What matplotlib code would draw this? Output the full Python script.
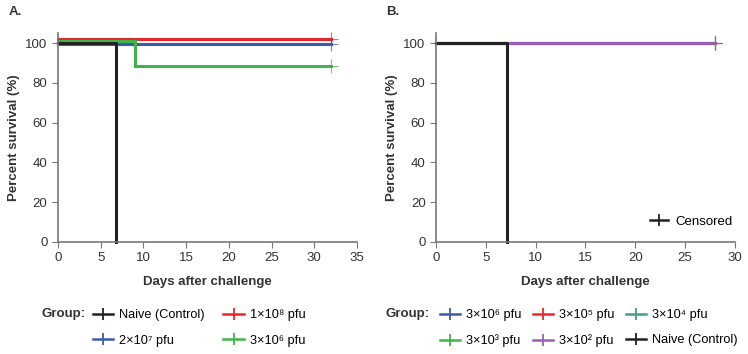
import matplotlib
matplotlib.use("Agg")
import matplotlib.pyplot as plt
from matplotlib.lines import Line2D

plt.rcParams['font.family'] = ['Liberation Sans', 'DejaVu Sans']
plt.rcParams['font.size'] = 9.5

# panel A: step curves (days, survival), slight offsets as drawn
a_labels = ['Naive (Control)', '1×10⁸ pfu', '2×10⁷ pfu', '3×10⁶ pfu']
a_colors = ['#222222', '#e8262b', '#3b5ba9', '#3db54b']
a_days = [[0, 6.85, 6.85], [0, 32], [0, 32], [0, 9, 9, 32]]
a_surv = [[100, 100, 0], [102, 102], [99.3, 99.3], [101, 101, 88.4, 88.4]]
a_cens = [None, (32, 102), (32, 99.3), (32, 88.4)]

# panel B
b_labels = ['3×10⁶ pfu', '3×10⁵ pfu', '3×10⁴ pfu',
            '3×10³ pfu', '3×10² pfu', 'Naive (Control)']
b_colors = ['#3b5ba9', '#e8262b', '#4a9a8c', '#3db54b', '#9b5db5', '#222222']
b_days = [[0, 28]] * 5 + [[0, 7.1, 7.1]]
b_surv = [[100, 100]] * 5 + [[100, 100, 0]]
b_cens = [(28, 100)] * 5 + [None]

fig = plt.figure(figsize=(7.48, 3.54), dpi=100)
axA = fig.add_axes([0.0775, 0.3164, 0.3997, 0.59])
axB = fig.add_axes([0.5829, 0.3164, 0.3997, 0.59])


def style(ax, xmax):
    ax.set_xlim(0, xmax)
    ax.set_ylim(0, 105)
    ax.set_yticks([0, 20, 40, 60, 80, 100])
    ax.set_xticks(range(0, xmax + 1, 5))
    for s in ['top', 'right']:
        ax.spines[s].set_visible(False)
    for s in ['left', 'bottom']:
        ax.spines[s].set_color('#777777')
        ax.spines[s].set_linewidth(1.2)
    ax.tick_params(direction='out', length=4, color='#777777', labelcolor='#333333')
    ax.set_ylabel('Percent survival (%)', fontweight='bold', color='#333333')
    ax.set_xlabel('Days after challenge', fontweight='bold', color='#333333', labelpad=8)


# A
for d, s, c in zip(a_days[1:], a_surv[1:], a_colors[1:]):
    axA.plot(d, s, color=c, lw=2.2, clip_on=False, solid_joinstyle='miter')
axA.plot(a_days[0], a_surv[0], color=a_colors[0], lw=2.2, clip_on=False)
for cen, c in zip(a_cens, a_colors):
    if cen:
        axA.plot(*cen, marker='+', ms=10, mew=0.8, color=c, alpha=0.7, clip_on=False)
style(axA, 35)

# B
for d, s, c in zip(b_days, b_surv, b_colors):
    axB.plot(d, s, color=c, lw=2.2, clip_on=False)
for cen, c in zip(b_cens, b_colors):
    if cen:
        axB.plot(*cen, marker='+', ms=10, mew=0.8, color=c, alpha=0.7, clip_on=False)
style(axB, 30)


def handles(colors):
    return [Line2D([0], [0], color=c, lw=1.8, marker='|', ms=8, mew=1.3) for c in colors]


fig.legend(handles(['#222222']), ['Censored'], loc='center right', frameon=False,
           handlelength=1.4, handletextpad=0.5, borderpad=0, borderaxespad=0,
           bbox_to_anchor=(0.979, 0.373))

fig.text(0.011, 0.965, 'A.', fontweight='bold', color='#333333', va='center')
fig.text(0.516, 0.965, 'B.', fontweight='bold', color='#333333', va='center')

# legend A (column-first order)
oA = [0, 2, 1, 3]
fig.text(0.055, 0.112, 'Group:', fontweight='bold', color='#333333', va='center')
fig.legend(handles([a_colors[i] for i in oA]), [a_labels[i] for i in oA], ncol=2,
           loc='center left', bbox_to_anchor=(0.1243, 0.0734), frameon=False,
           borderpad=0, borderaxespad=0, fontsize=9.2,
           handlelength=1.6, columnspacing=1.45, labelspacing=1.03, handletextpad=0.45)

# legend B
oB = [0, 3, 1, 4, 2, 5]
fig.text(0.516, 0.112, 'Group:', fontweight='bold', color='#333333', va='center')
fig.legend(handles([b_colors[i] for i in oB]), [b_labels[i] for i in oB], ncol=3,
           loc='center left', bbox_to_anchor=(0.588, 0.0734), frameon=False,
           borderpad=0, borderaxespad=0, fontsize=9.2,
           handlelength=1.6, columnspacing=0.9, labelspacing=1.03, handletextpad=0.45)

fig.savefig('out.png', dpi=100)
